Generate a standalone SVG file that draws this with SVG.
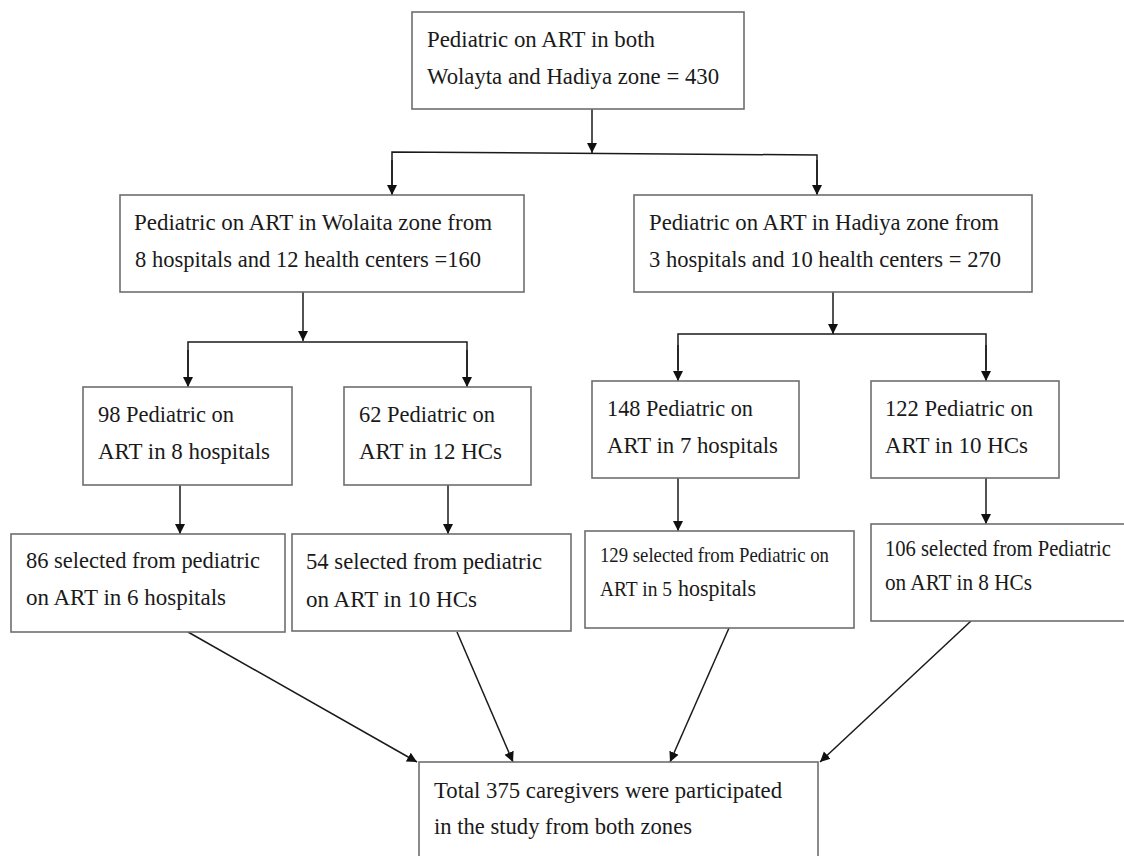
<svg xmlns="http://www.w3.org/2000/svg" width="1124" height="856" viewBox="0 0 1124 856">
<defs>
<marker id="ah" markerWidth="10" markerHeight="13" refX="10" refY="6.5" orient="auto" markerUnits="userSpaceOnUse">
<path d="M0,1.5 L10,6.5 L0,11.5 Z" fill="#111"/>
</marker>
<style>
.box{fill:#fff;stroke:#6e6e6e;stroke-width:1.6}
.t{font-family:'Liberation Serif','Times New Roman','DejaVu Serif',serif;font-size:24px;fill:#1a1a1a}
.s{font-size:21px}
.c{fill:none;stroke:#1a1a1a;stroke-width:1.5}
.ca{fill:none;stroke:#1a1a1a;stroke-width:1.5;marker-end:url(#ah)}
</style>
</defs>
<rect width="1124" height="856" fill="#fff"/>
<g id="connectors">
<line class="ca" x1="592" y1="109" x2="592" y2="153"/>
<polyline class="c" points="392,195 392,152 817,155 817,195"/>
<line class="ca" x1="392" y1="160" x2="392" y2="195"/>
<line class="ca" x1="817" y1="160" x2="817" y2="195"/>
<line class="ca" x1="303" y1="292" x2="303" y2="341"/>
<polyline class="c" points="188,380 188,342 467,342 467,380"/>
<line class="ca" x1="188" y1="350" x2="188" y2="387"/>
<line class="ca" x1="467" y1="350" x2="467" y2="387"/>
<line class="ca" x1="833" y1="292" x2="833" y2="334"/>
<polyline class="c" points="678,370 678,334 986,334 986,370"/>
<line class="ca" x1="678" y1="345" x2="678" y2="381"/>
<line class="ca" x1="986" y1="345" x2="986" y2="381"/>
<line class="ca" x1="180" y1="485" x2="180" y2="534"/>
<line class="ca" x1="448" y1="485" x2="448" y2="534"/>
<line class="ca" x1="678" y1="478" x2="678" y2="531"/>
<line class="ca" x1="986" y1="478" x2="986" y2="524"/>
<line class="ca" x1="188" y1="632" x2="417" y2="762"/>
<line class="ca" x1="457" y1="632" x2="513" y2="762"/>
<line class="ca" x1="729" y1="628" x2="670" y2="762"/>
<line class="ca" x1="971" y1="621" x2="820" y2="762"/>
</g>
<g id="n-top">
<rect class="box" x="412" y="12" width="332" height="97"/>
<text class="t" x="427" y="47" textLength="228" lengthAdjust="spacingAndGlyphs">Pediatric on ART in both</text>
<text class="t" x="427" y="84" textLength="292" lengthAdjust="spacingAndGlyphs">Wolayta and Hadiya zone = 430</text>
</g>
<g id="n-wolaita">
<rect class="box" x="120" y="195" width="404" height="97"/>
<text class="t" x="134" y="230" textLength="358" lengthAdjust="spacingAndGlyphs">Pediatric on ART in Wolaita zone from</text>
<text class="t" x="135" y="267" textLength="346" lengthAdjust="spacingAndGlyphs">8 hospitals and 12 health centers =160</text>
</g>
<g id="n-hadiya">
<rect class="box" x="634" y="195" width="398" height="97"/>
<text class="t" x="649" y="230" textLength="350" lengthAdjust="spacingAndGlyphs">Pediatric on ART in Hadiya zone from</text>
<text class="t" x="649" y="267" textLength="352" lengthAdjust="spacingAndGlyphs">3 hospitals and 10 health centers = 270</text>
</g>
<g id="n-w-hosp">
<rect class="box" x="83" y="387" width="209" height="98"/>
<text class="t" x="98" y="422" textLength="136" lengthAdjust="spacingAndGlyphs">98 Pediatric on</text>
<text class="t" x="98" y="459" textLength="172" lengthAdjust="spacingAndGlyphs">ART in 8 hospitals</text>
</g>
<g id="n-w-hc">
<rect class="box" x="344" y="387" width="187" height="98"/>
<text class="t" x="359" y="422" textLength="136" lengthAdjust="spacingAndGlyphs">62 Pediatric on</text>
<text class="t" x="359" y="459" textLength="143" lengthAdjust="spacingAndGlyphs">ART in 12 HCs</text>
</g>
<g id="n-h-hosp">
<rect class="box" x="592" y="381" width="207" height="97"/>
<text class="t" x="607" y="416" textLength="146" lengthAdjust="spacingAndGlyphs">148 Pediatric on</text>
<text class="t" x="607" y="453" textLength="171" lengthAdjust="spacingAndGlyphs">ART in 7 hospitals</text>
</g>
<g id="n-h-hc">
<rect class="box" x="871" y="381" width="188" height="97"/>
<text class="t" x="885" y="416" textLength="148" lengthAdjust="spacingAndGlyphs">122 Pediatric on</text>
<text class="t" x="885" y="453" textLength="143" lengthAdjust="spacingAndGlyphs">ART in 10 HCs</text>
</g>
<g id="n-w-hosp-sel">
<rect class="box" x="11" y="534" width="274" height="98"/>
<text class="t" x="26" y="568" textLength="234" lengthAdjust="spacingAndGlyphs">86 selected from pediatric</text>
<text class="t" x="26" y="605" textLength="200" lengthAdjust="spacingAndGlyphs">on ART in 6 hospitals</text>
</g>
<g id="n-w-hc-sel">
<rect class="box" x="292" y="534" width="279" height="97"/>
<text class="t" x="306" y="569" textLength="236" lengthAdjust="spacingAndGlyphs">54 selected from pediatric</text>
<text class="t" x="306" y="607" textLength="171" lengthAdjust="spacingAndGlyphs">on ART in 10 HCs</text>
</g>
<g id="n-h-hosp-sel">
<rect class="box" x="585" y="531" width="269" height="97"/>
<text class="t s" x="600" y="562" textLength="229" lengthAdjust="spacingAndGlyphs">129 selected from Pediatric on</text>
<text class="t s" x="600" y="596" textLength="72" lengthAdjust="spacingAndGlyphs">ART in 5</text>
<text class="t" x="678" y="596" textLength="78" lengthAdjust="spacingAndGlyphs">hospitals</text>
</g>
<g id="n-h-hc-sel">
<rect class="box" x="871" y="524" width="262" height="97"/>
<text class="t" x="885" y="556" textLength="226" lengthAdjust="spacingAndGlyphs">106 selected from Pediatric</text>
<text class="t" x="885" y="590" textLength="147" lengthAdjust="spacingAndGlyphs">on ART in 8 HCs</text>
</g>
<g id="n-total">
<rect class="box" x="419" y="762" width="399" height="100"/>
<text class="t" x="434" y="798" textLength="348" lengthAdjust="spacingAndGlyphs">Total 375 caregivers were participated</text>
<text class="t" x="434" y="834" textLength="258" lengthAdjust="spacingAndGlyphs">in the study from both zones</text>
</g>
</svg>
